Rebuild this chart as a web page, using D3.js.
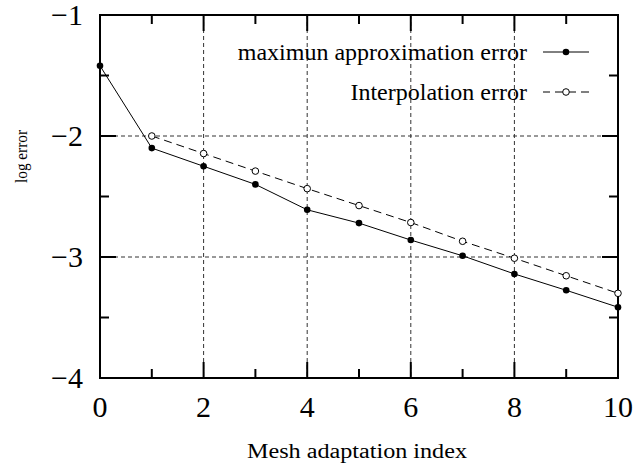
<!DOCTYPE html>
<html>
<head>
<meta charset="utf-8">
<script src="https://cdn.jsdelivr.net/npm/d3@7"></script>
<style>
  html, body { margin: 0; padding: 0; background: #fff; }
  svg { display: block; }
</style>
</head>
<body>
<svg id="chart" width="634" height="469"></svg>
<script>
// ---- data ----
const maxIndex = [0, 1, 2, 3, 4, 5, 6, 7, 8, 9, 10];
const maxError = [-1.42, -2.10, -2.25, -2.40, -2.61, -2.72, -2.86, -2.99, -3.14, -3.275, -3.415];
const interpIndex = [1, 2, 3, 4, 5, 6, 7, 8, 9, 10];
const interpError = [-2.00, -2.145, -2.29, -2.435, -2.575, -2.715, -2.87, -3.01, -3.155, -3.30];
const xTicks = [0, 2, 4, 6, 8, 10];
const xMinorTicks = [1, 3, 5, 7, 9];
const yTicks = [-1, -2, -3, -4];
const yMinorTicks = [-1.5, -2.5, -3.5];
const xGrid = [2, 4, 6, 8];
const yGrid = [-2, -3];
const seriesNames = ["maximun approximation error", "Interpolation error"];
const xLabel = "Mesh adaptation index";
const yLabel = "log error";

// ---- layout ----
const FONT = "'Liberation Serif', 'Times New Roman', 'DejaVu Serif', serif";
const L = 100, R = 618, T = 15, B = 378;
const svg = d3.select("#chart").attr("font-family", FONT);
const x = d3.scaleLinear().domain([0, 10]).range([L, R]);
const y = d3.scaleLinear().domain([-4, -1]).range([B, T]);

// grid
const grid = svg.append("g").attr("stroke", "#333").attr("stroke-width", 1)
  .attr("stroke-dasharray", "4,3").attr("fill", "none");
grid.selectAll("line.gx").data(xGrid).join("line")
  .attr("x1", d => x(d)).attr("x2", d => x(d)).attr("y1", T).attr("y2", B);
grid.selectAll("line.gy").data(yGrid).join("line")
  .attr("x1", L).attr("x2", R).attr("y1", d => y(d)).attr("y2", d => y(d));

// ticks (inward, all four sides)
const MAJ = 16, MIN = 9;
const ticks = svg.append("g").attr("stroke", "#000").attr("stroke-width", 2);
function xt(vals, len) {
  ticks.append("g").selectAll("line").data(vals).join("line")
    .attr("x1", d => x(d)).attr("x2", d => x(d)).attr("y1", B).attr("y2", B - len);
  ticks.append("g").selectAll("line").data(vals).join("line")
    .attr("x1", d => x(d)).attr("x2", d => x(d)).attr("y1", T).attr("y2", T + len);
}
function yt(vals, len) {
  ticks.append("g").selectAll("line").data(vals).join("line")
    .attr("y1", d => y(d)).attr("y2", d => y(d)).attr("x1", L).attr("x2", L + len);
  ticks.append("g").selectAll("line").data(vals).join("line")
    .attr("y1", d => y(d)).attr("y2", d => y(d)).attr("x1", R).attr("x2", R - len);
}
xt(xTicks, MAJ); xt(xMinorTicks, MIN); yt(yTicks, MAJ); yt(yMinorTicks, MIN);

// frame
svg.append("rect").attr("x", L).attr("y", T).attr("width", R - L).attr("height", B - T)
  .attr("fill", "none").attr("stroke", "#000").attr("stroke-width", 2);

function txt(sel) { return sel.style("font-family", FONT).attr("fill", "#000"); }

// tick labels
const fmt = d => (d < 0 ? "\u2212" + Math.abs(d) : String(d));
txt(svg.append("g").selectAll("text").data(xTicks).join("text"))
  .attr("x", d => x(d)).attr("y", 417).attr("text-anchor", "middle")
  .style("font-size", "30px").text(fmt);
txt(svg.append("g").selectAll("text").data(yTicks).join("text"))
  .attr("x", 83).attr("y", d => y(d) + 10).attr("text-anchor", "end")
  .style("font-size", "30px").text(fmt);

// axis titles
txt(svg.append("text")).attr("x", 357).attr("y", 458).attr("text-anchor", "middle")
  .attr("textLength", 220).attr("lengthAdjust", "spacingAndGlyphs")
  .style("font-size", "20px").text(xLabel);
txt(svg.append("text")).attr("transform", "translate(27,156.5) rotate(-90)")
  .attr("text-anchor", "middle").attr("textLength", 53).attr("lengthAdjust", "spacingAndGlyphs")
  .style("font-size", "17px").text(yLabel);

// series
const line = d3.line().x(d => x(d[0])).y(d => y(d[1]));
const s1 = maxIndex.map((d, i) => [d, maxError[i]]);
const s2 = interpIndex.map((d, i) => [d, interpError[i]]);
svg.append("path").datum(s2).attr("d", line).attr("fill", "none")
  .attr("stroke", "#000").attr("stroke-width", 1).attr("stroke-dasharray", "8,5");
svg.append("path").datum(s1).attr("d", line).attr("fill", "none")
  .attr("stroke", "#000").attr("stroke-width", 1);
svg.append("g").selectAll("circle").data(s2).join("circle")
  .attr("cx", d => x(d[0])).attr("cy", d => y(d[1])).attr("r", 3.3)
  .attr("fill", "#fff").attr("stroke", "#000").attr("stroke-width", 1);
svg.append("g").selectAll("circle").data(s1).join("circle")
  .attr("cx", d => x(d[0])).attr("cy", d => y(d[1])).attr("r", 3.3)
  .attr("fill", "#000");

// legend
const legY = [52, 92];
const leg = svg.append("g");
txt(leg.selectAll("text").data(seriesNames).join("text"))
  .attr("x", 527).attr("y", (d, i) => legY[i] + 8).attr("text-anchor", "end")
  .style("font-size", "24px").text(d => d);
leg.append("line").attr("x1", 543).attr("x2", 589).attr("y1", legY[0]).attr("y2", legY[0])
  .attr("stroke", "#000").attr("stroke-width", 1);
leg.append("line").attr("x1", 543).attr("x2", 589).attr("y1", legY[1]).attr("y2", legY[1])
  .attr("stroke", "#000").attr("stroke-width", 1).attr("stroke-dasharray", "8,5")
  .attr("stroke-dashoffset", 1);
leg.append("circle").attr("cx", 566).attr("cy", legY[0]).attr("r", 3.3).attr("fill", "#000");
leg.append("circle").attr("cx", 566).attr("cy", legY[1]).attr("r", 3.3)
  .attr("fill", "#fff").attr("stroke", "#000").attr("stroke-width", 1);
</script>
</body>
</html>
